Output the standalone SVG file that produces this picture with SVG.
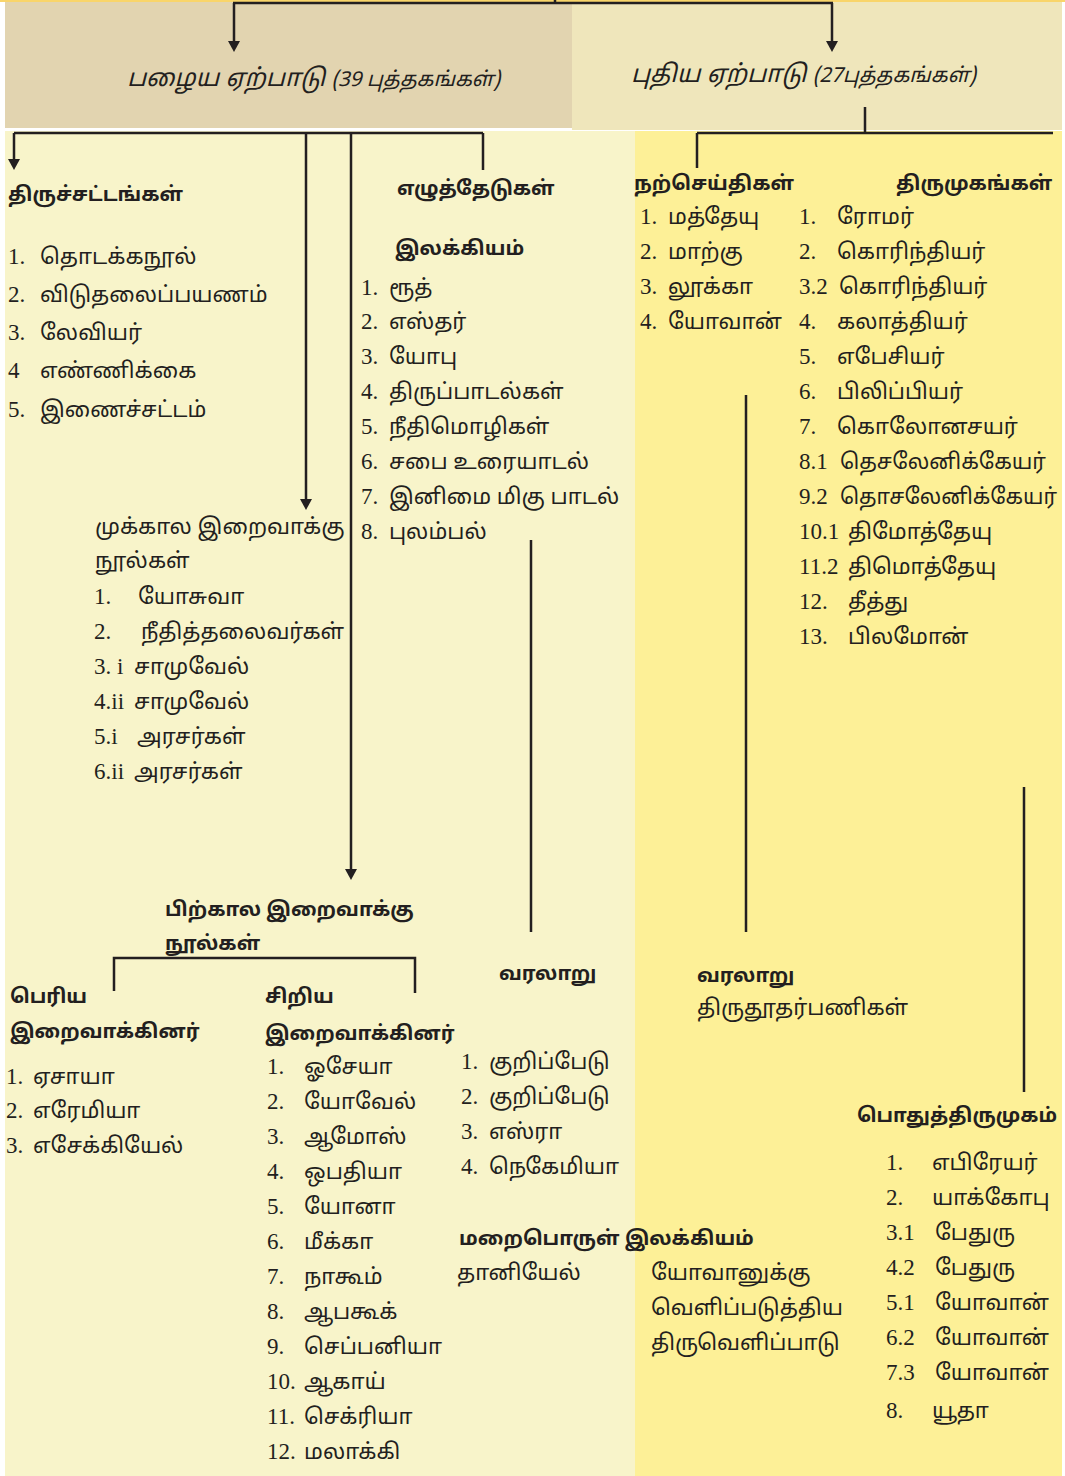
<svg xmlns="http://www.w3.org/2000/svg" width="1065" height="1476" viewBox="0 0 1065 1476">
<style>
.t{font-family:"Noto Sans Tamil","Noto Serif Tamil","Lohit Tamil","Latha","Liberation Serif",serif;font-size:22px;fill:#231f20}
.b{font-family:"Noto Sans Tamil","Noto Serif Tamil","Lohit Tamil","Latha","Liberation Sans",sans-serif;font-size:20px;font-weight:bold;fill:#231f20}
.h{font-family:"Noto Sans Tamil","Noto Serif Tamil","Lohit Tamil","Latha","Liberation Serif",serif;font-size:24.5px;fill:#231f20;font-style:italic}
.n{font-family:"Liberation Serif",serif;font-size:23px}
.c{stroke:#231f20;stroke-width:2.5;fill:none}
</style>
<rect width="1065" height="1476" fill="#ffffff"/>
<rect x="0" y="0" width="1065" height="2" fill="#f9d56a"/>
<rect x="5" y="2" width="567" height="126" fill="#e2d4b0"/>
<rect x="572" y="2" width="490" height="128" fill="#efe6bb"/>
<rect x="5" y="131" width="630" height="1345" fill="#f8f4ca"/>
<rect x="635" y="131" width="427" height="1345" fill="#fdf097"/>

<g id="connectors">
<path class="c" d="M555,0 V3 M233,3 H833"/>
<path class="c" d="M234,3 V42"/>
<path d="M228,41 H240 L234,52 Z" fill="#231f20"/>
<path class="c" d="M832,3 V42"/>
<path d="M826,41 H838 L832,52 Z" fill="#231f20"/>
<path class="c" d="M865,107 V133 M697,133 H1053 M697,133 V168"/>
<path class="c" d="M14,133 H483 M483,133 V170"/>
<path class="c" d="M14,133 V160"/>
<path d="M8,159 H20 L14,170 Z" fill="#231f20"/>
<path class="c" d="M306,133 V500"/>
<path d="M300,499 H312 L306,510 Z" fill="#231f20"/>
<path class="c" d="M351,133 V870"/>
<path d="M345,869 H357 L351,880 Z" fill="#231f20"/>
<path class="c" d="M531,540 V932"/>
<path class="c" d="M746,395 V932"/>
<path class="c" d="M1024,787 V1092"/>
<path class="c" d="M114,991 V958 H415 V993"/>
</g>

<g id="old-testament">
<text class="h" x="127" y="86">பழைய ஏற்பாடு <tspan font-size="20.5">(39 புத்தகங்கள்)</tspan></text>
</g>
<g id="new-testament">
<text class="h" x="631" y="82">புதிய ஏற்பாடு <tspan font-size="20.5">(27புத்தகங்கள்)</tspan></text>
</g>

<g id="torah">
<text class="b" x="8" y="201">திருச்சட்டங்கள்</text>
<text class="t" y="264"><tspan class="n" x="8">1.</tspan><tspan x="40">தொடக்கநூல்</tspan></text>
<text class="t" y="302"><tspan class="n" x="8">2.</tspan><tspan x="40">விடுதலைப்பயணம்</tspan></text>
<text class="t" y="340"><tspan class="n" x="8">3.</tspan><tspan x="40">லேவியர்</tspan></text>
<text class="t" y="378"><tspan class="n" x="8">4</tspan><tspan x="40">எண்ணிக்கை</tspan></text>
<text class="t" y="417"><tspan class="n" x="8">5.</tspan><tspan x="40">இணைச்சட்டம்</tspan></text>
</g>

<g id="writings">
<text class="b" x="397" y="195">எழுத்தேடுகள்</text>
<text class="b" x="395" y="255">இலக்கியம்</text>
<text class="t" y="295"><tspan class="n" x="361">1.</tspan><tspan x="389">ரூத்</tspan></text>
<text class="t" y="329"><tspan class="n" x="361">2.</tspan><tspan x="389">எஸ்தர்</tspan></text>
<text class="t" y="364"><tspan class="n" x="361">3.</tspan><tspan x="389">யோபு</tspan></text>
<text class="t" y="399"><tspan class="n" x="361">4.</tspan><tspan x="389">திருப்பாடல்கள்</tspan></text>
<text class="t" y="434"><tspan class="n" x="361">5.</tspan><tspan x="389">நீதிமொழிகள்</tspan></text>
<text class="t" y="469"><tspan class="n" x="361">6.</tspan><tspan x="389">சபை உரையாடல்</tspan></text>
<text class="t" y="504"><tspan class="n" x="361">7.</tspan><tspan x="389">இனிமை மிகு பாடல்</tspan></text>
<text class="t" y="539"><tspan class="n" x="361">8.</tspan><tspan x="389">புலம்பல்</tspan></text>
</g>

<g id="former-prophets">
<text class="t" x="95" y="534">முக்கால இறைவாக்கு</text>
<text class="t" x="95" y="568">நூல்கள்</text>
<text class="t" y="604"><tspan class="n" x="94">1.</tspan><tspan x="138">யோசுவா</tspan></text>
<text class="t" y="639"><tspan class="n" x="94">2.</tspan><tspan x="141">நீதித்தலைவர்கள்</tspan></text>
<text class="t" y="674"><tspan class="n" x="94">3. i</tspan><tspan x="134">சாமுவேல்</tspan></text>
<text class="t" y="709"><tspan class="n" x="94">4.ii</tspan><tspan x="134">சாமுவேல்</tspan></text>
<text class="t" y="744"><tspan class="n" x="94">5.i</tspan><tspan x="137">அரசர்கள்</tspan></text>
<text class="t" y="779"><tspan class="n" x="94">6.ii</tspan><tspan x="134">அரசர்கள்</tspan></text>
</g>

<g id="latter-prophets">
<text class="b" x="165" y="916">பிற்கால இறைவாக்கு</text>
<text class="b" x="165" y="950">நூல்கள்</text>
</g>

<g id="major-prophets">
<text class="b" x="10" y="1003">பெரிய</text>
<text class="b" x="10" y="1038">இறைவாக்கினர்</text>
<text class="t" y="1084"><tspan class="n" x="6">1.</tspan><tspan x="33">ஏசாயா</tspan></text>
<text class="t" y="1118"><tspan class="n" x="6">2.</tspan><tspan x="33">எரேமியா</tspan></text>
<text class="t" y="1153"><tspan class="n" x="6">3.</tspan><tspan x="33">எசேக்கியேல்</tspan></text>
</g>

<g id="minor-prophets">
<text class="b" x="265" y="1003">சிறிய</text>
<text class="b" x="265" y="1040">இறைவாக்கினர்</text>
<text class="t" y="1074"><tspan class="n" x="267">1.</tspan><tspan x="304">ஓசேயா</tspan></text>
<text class="t" y="1109"><tspan class="n" x="267">2.</tspan><tspan x="304">யோவேல்</tspan></text>
<text class="t" y="1144"><tspan class="n" x="267">3.</tspan><tspan x="304">ஆமோஸ்</tspan></text>
<text class="t" y="1179"><tspan class="n" x="267">4.</tspan><tspan x="304">ஒபதியா</tspan></text>
<text class="t" y="1214"><tspan class="n" x="267">5.</tspan><tspan x="304">யோனா</tspan></text>
<text class="t" y="1249"><tspan class="n" x="267">6.</tspan><tspan x="304">மீக்கா</tspan></text>
<text class="t" y="1284"><tspan class="n" x="267">7.</tspan><tspan x="304">நாகூம்</tspan></text>
<text class="t" y="1319"><tspan class="n" x="267">8.</tspan><tspan x="304">ஆபகூக்</tspan></text>
<text class="t" y="1354"><tspan class="n" x="267">9.</tspan><tspan x="304">செப்பனியா</tspan></text>
<text class="t" y="1389"><tspan class="n" x="267">10.</tspan><tspan x="304">ஆகாய்</tspan></text>
<text class="t" y="1424"><tspan class="n" x="267">11.</tspan><tspan x="304">செக்ரியா</tspan></text>
<text class="t" y="1459"><tspan class="n" x="267">12.</tspan><tspan x="304">மலாக்கி</tspan></text>
</g>

<g id="ot-history">
<text class="b" x="499" y="980">வரலாறு</text>
<text class="t" y="1069"><tspan class="n" x="461">1.</tspan><tspan x="489">குறிப்பேடு</tspan></text>
<text class="t" y="1104"><tspan class="n" x="461">2.</tspan><tspan x="489">குறிப்பேடு</tspan></text>
<text class="t" y="1139"><tspan class="n" x="461">3.</tspan><tspan x="489">எஸ்ரா</tspan></text>
<text class="t" y="1174"><tspan class="n" x="461">4.</tspan><tspan x="489">நெகேமியா</tspan></text>
</g>

<g id="apocalyptic">
<text class="b" x="459" y="1245">மறைபொருள் இலக்கியம்</text>
<text class="t" x="457" y="1280">தானியேல்</text>
<text class="t" x="651" y="1280">யோவானுக்கு</text>
<text class="t" x="651" y="1315">வெளிப்படுத்திய</text>
<text class="t" x="651" y="1350">திருவெளிப்பாடு</text>
</g>

<g id="gospels">
<text class="b" x="634" y="190">நற்செய்திகள்</text>
<text class="t" y="224"><tspan class="n" x="640">1.</tspan><tspan x="668">மத்தேயு</tspan></text>
<text class="t" y="259"><tspan class="n" x="640">2.</tspan><tspan x="668">மாற்கு</tspan></text>
<text class="t" y="294"><tspan class="n" x="640">3.</tspan><tspan x="668">லூக்கா</tspan></text>
<text class="t" y="329"><tspan class="n" x="640">4.</tspan><tspan x="668">யோவான்</tspan></text>
</g>

<g id="epistles">
<text class="b" x="896" y="190">திருமுகங்கள்</text>
<text class="t" y="224"><tspan class="n" x="799">1.</tspan><tspan x="837">ரோமர்</tspan></text>
<text class="t" y="259"><tspan class="n" x="799">2.</tspan><tspan x="837">கொரிந்தியர்</tspan></text>
<text class="t" y="294"><tspan class="n" x="799">3.2</tspan><tspan x="839">கொரிந்தியர்</tspan></text>
<text class="t" y="329"><tspan class="n" x="799">4.</tspan><tspan x="837">கலாத்தியர்</tspan></text>
<text class="t" y="364"><tspan class="n" x="799">5.</tspan><tspan x="837">எபேசியர்</tspan></text>
<text class="t" y="399"><tspan class="n" x="799">6.</tspan><tspan x="837">பிலிப்பியர்</tspan></text>
<text class="t" y="434"><tspan class="n" x="799">7.</tspan><tspan x="837">கொலோனசயர்</tspan></text>
<text class="t" y="469"><tspan class="n" x="799">8.1</tspan><tspan x="840" textLength="206" lengthAdjust="spacingAndGlyphs">தெசலேனிக்கேயர்</tspan></text>
<text class="t" y="504"><tspan class="n" x="799">9.2</tspan><tspan x="840" textLength="217" lengthAdjust="spacingAndGlyphs">தொசலேனிக்கேயர்</tspan></text>
<text class="t" y="539"><tspan class="n" x="799">10.1</tspan><tspan x="848">திமோத்தேயு</tspan></text>
<text class="t" y="574"><tspan class="n" x="799">11.2</tspan><tspan x="848">திமொத்தேயு</tspan></text>
<text class="t" y="609"><tspan class="n" x="799">12.</tspan><tspan x="848">தீத்து</tspan></text>
<text class="t" y="644"><tspan class="n" x="799">13.</tspan><tspan x="848">பிலமோன்</tspan></text>
</g>

<g id="nt-history">
<text class="b" x="697" y="982">வரலாறு</text>
<text class="t" x="697" y="1015">திருதூதர்பணிகள்</text>
</g>

<g id="general-epistles">
<text class="b" x="857" y="1122" textLength="200" lengthAdjust="spacingAndGlyphs">பொதுத்திருமுகம்</text>
<text class="t" y="1170"><tspan class="n" x="886">1.</tspan><tspan x="932">எபிரேயர்</tspan></text>
<text class="t" y="1205"><tspan class="n" x="886">2.</tspan><tspan x="932">யாக்கோபு</tspan></text>
<text class="t" y="1240"><tspan class="n" x="886">3.1</tspan><tspan x="935">பேதுரு</tspan></text>
<text class="t" y="1275"><tspan class="n" x="886">4.2</tspan><tspan x="935">பேதுரு</tspan></text>
<text class="t" y="1310"><tspan class="n" x="886">5.1</tspan><tspan x="935">யோவான்</tspan></text>
<text class="t" y="1345"><tspan class="n" x="886">6.2</tspan><tspan x="935">யோவான்</tspan></text>
<text class="t" y="1380"><tspan class="n" x="886">7.3</tspan><tspan x="935">யோவான்</tspan></text>
<text class="t" y="1418"><tspan class="n" x="886">8.</tspan><tspan x="932">யூதா</tspan></text>
</g>
</svg>
